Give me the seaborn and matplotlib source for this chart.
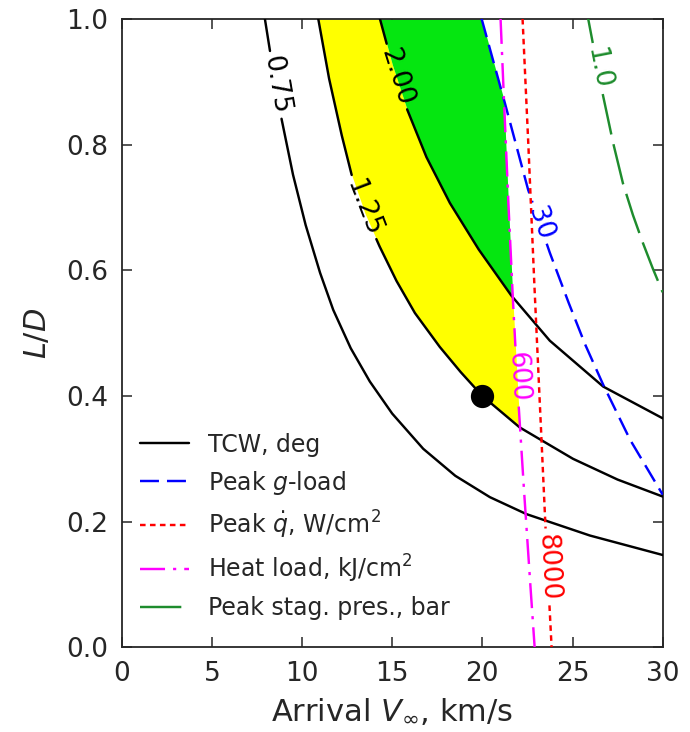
import numpy as np
import matplotlib
matplotlib.use("Agg")
import matplotlib.pyplot as plt
import seaborn as sns
from matplotlib.lines import Line2D

# Theoretical corridor width (TCW, deg) contours: arrival V_inf (km/s) vs L/D
tcw_075_v = [7.94, 8.30, 8.87, 9.50, 10.20, 11.00, 11.73, 12.70, 13.76, 15.00,
             16.72, 18.50, 20.42, 22.45, 25.96, 30.00]
tcw_075_ld = [1.000, 0.935, 0.840, 0.752, 0.672, 0.596, 0.537, 0.476, 0.423, 0.372,
              0.316, 0.273, 0.239, 0.212, 0.178, 0.147]
tcw_125_v = [10.90, 11.50, 12.20, 12.75, 13.50, 14.30, 15.24, 16.26, 17.64, 18.80,
             20.00, 22.07, 25.03, 27.50, 30.00]
tcw_125_ld = [1.000, 0.905, 0.815, 0.752, 0.690, 0.638, 0.583, 0.532, 0.478, 0.438,
              0.400, 0.350, 0.300, 0.267, 0.240]
tcw_200_v = [14.32, 15.00, 15.80, 16.90, 18.20, 19.80, 21.60, 23.74, 26.70, 30.00]
tcw_200_ld = [1.000, 0.928, 0.858, 0.780, 0.707, 0.633, 0.560, 0.488, 0.415, 0.3645]

# Peak g-load = 30
gload_v = [19.96, 21.25, 22.54, 23.74, 24.79, 25.70, 26.70, 28.20, 30.00]
gload_ld = [1.000, 0.866, 0.728, 0.628, 0.548, 0.482, 0.418, 0.330, 0.243]

# Peak heat rate = 8000 W/cm2
qdot_v = [22.23, 22.55, 22.88, 23.20, 23.52, 23.84]
qdot_ld = [1.00, 0.80, 0.58, 0.38, 0.18, 0.00]

# Heat load = 600 kJ/cm2
heat_v = [21.01, 21.23, 21.455, 21.70, 21.98, 22.31, 22.66, 22.90]
heat_ld = [1.00, 0.85, 0.70, 0.55, 0.40, 0.25, 0.10, 0.00]

# Peak stagnation pressure = 1.0 bar
pres_v = [25.87, 26.30, 26.70, 27.25, 27.80, 28.35, 28.91, 29.45, 30.00]
pres_ld = [1.000, 0.935, 0.877, 0.803, 0.738, 0.688, 0.643, 0.603, 0.565]

# Selected design point
design_v = [20.0]
design_ld = [0.4]

x_ticks = [0, 5, 10, 15, 20, 25, 30]
y_ticks = [0.0, 0.2, 0.4, 0.6, 0.8, 1.0]

sns.set_theme(style="ticks", rc={
    "xtick.direction": "in", "ytick.direction": "in",
    "xtick.top": True, "ytick.right": True,
    "xtick.major.size": 7, "ytick.major.size": 7,
    "xtick.major.width": 1.1, "ytick.major.width": 1.1,
    "xtick.major.pad": 10, "ytick.major.pad": 10,
    "axes.linewidth": 1.3,
})
plt.rcParams["font.family"] = ["DejaVu Sans"]

fig = plt.figure(figsize=(6.9, 7.32), dpi=100)
ax = fig.add_axes([0.1764, 0.1156, 0.7840, 0.8586])
ax.set_xlim(0, 30)
ax.set_ylim(0, 1)

LW = 1.75
STY_TCW = "-"
STY_G = (0, (7.8, 3.3))
STY_Q = (0, (2.3, 1.8))
STY_H = (0, (10.3, 3.3, 1.3, 3.3))
STY_P = (0, (17.0, 4.1))

# feasible regions
yy = np.linspace(0, 1, 800)


def x_of(ld, v):
    return np.interp(yy, np.asarray(ld)[::-1], np.asarray(v)[::-1])


x125 = x_of(tcw_125_ld, tcw_125_v)
x200 = x_of(tcw_200_ld, tcw_200_v)
x600 = x_of(heat_ld, heat_v)
xg30 = x_of(gload_ld, gload_v)
right_y = np.minimum(x200, x600)
ax.fill_betweenx(yy, x125, right_y, where=x125 < right_y, interpolate=True,
                 color="#ffff00", linewidth=0, zorder=1)
right_g = np.minimum(x600, xg30)
ax.fill_betweenx(yy, x200, right_g, where=x200 < right_g, interpolate=True,
                 color="#05e610", linewidth=0, zorder=1)

renderer = fig.canvas.get_renderer()


def draw_labeled(v, ld, color, style, text, ld_lab, fs=19, pad=5):
    v = np.asarray(v, float)
    ld = np.asarray(ld, float)
    pts = ax.transData.transform(np.column_stack([v, ld]))
    s = np.concatenate([[0.0], np.cumsum(np.hypot(*np.diff(pts, axis=0).T))])
    s_lab = np.interp(ld_lab, ld[::-1], s[::-1])
    t = ax.text(0, 0, text, fontsize=fs, color=color)
    half = t.get_window_extent(renderer).width / 2 + pad
    t.remove()
    sa, sb = s_lab - half, s_lab + half
    pa = np.array([np.interp(sa, s, pts[:, 0]), np.interp(sa, s, pts[:, 1])])
    pb = np.array([np.interp(sb, s, pts[:, 0]), np.interp(sb, s, pts[:, 1])])
    pc = np.array([np.interp(s_lab, s, pts[:, 0]), np.interp(s_lab, s, pts[:, 1])])
    inv = ax.transData.inverted()
    seg1 = np.vstack([pts[s < sa], pa])
    seg2 = np.vstack([pb, pts[s > sb]])
    for seg in (seg1, seg2):
        d = inv.transform(seg)
        if len(d) > 1:
            sns.lineplot(x=d[:, 0], y=d[:, 1], sort=False, estimator=None,
                         color=color, linewidth=LW, linestyle=style, ax=ax, zorder=3)
    ang = np.degrees(np.arctan2(pb[1] - pa[1], pb[0] - pa[0]))
    if ang > 90:
        ang -= 180
    if ang < -90:
        ang += 180
    c = inv.transform(pc)
    ax.text(c[0], c[1], text, fontsize=fs, color=color, rotation=ang,
            rotation_mode="anchor", ha="center", va="center", zorder=4)


draw_labeled(tcw_075_v, tcw_075_ld, "black", STY_TCW, "0.75", 0.895)
draw_labeled(tcw_125_v, tcw_125_ld, "black", STY_TCW, "1.25", 0.700)
draw_labeled(tcw_200_v, tcw_200_ld, "black", STY_TCW, "2.00", 0.908)
draw_labeled(gload_v, gload_ld, "blue", STY_G, "30", 0.675)
draw_labeled(qdot_v, qdot_ld, "red", STY_Q, "8000", 0.128)
draw_labeled(heat_v, heat_ld, "magenta", STY_H, "600", 0.431)
draw_labeled(pres_v, pres_ld, "#1e8c2d", STY_P, "1.0", 0.921)

sns.scatterplot(x=design_v, y=design_ld, s=240, color="black",
                edgecolor="black", ax=ax, zorder=5, legend=False)

handles = [
    Line2D([], [], color="black", lw=LW, linestyle=STY_TCW),
    Line2D([], [], color="blue", lw=LW, linestyle=STY_G),
    Line2D([], [], color="red", lw=LW, linestyle=STY_Q),
    Line2D([], [], color="magenta", lw=LW, linestyle=STY_H),
    Line2D([], [], color="#1e8c2d", lw=LW, linestyle=STY_P),
]
labels = ["TCW, deg", "Peak $g$-load", r"Peak $\dot{q}$, W/cm$^2$",
          "Heat load, kJ/cm$^2$", "Peak stag. pres., bar"]
ax.legend(handles, labels, loc="lower left", bbox_to_anchor=(0.016, 0.028),
          borderaxespad=0, frameon=False, fontsize=17,
          handlelength=2.1, handletextpad=0.8, labelspacing=0.5)

ax.set_xlim(0, 30)
ax.set_ylim(0, 1)
ax.set_xticks(x_ticks)
ax.set_yticks(y_ticks)
ax.set_xticklabels([f"{t:g}" for t in x_ticks])
ax.set_yticklabels([f"{t:.1f}" for t in y_ticks])
ax.tick_params(labelsize=19)
ax.set_xlabel(r"Arrival $V_{\infty}$, km/s", fontsize=22, labelpad=6)
ax.set_ylabel(r"$L/D$", fontsize=22, labelpad=10)

fig.savefig("out.png", dpi=100)
